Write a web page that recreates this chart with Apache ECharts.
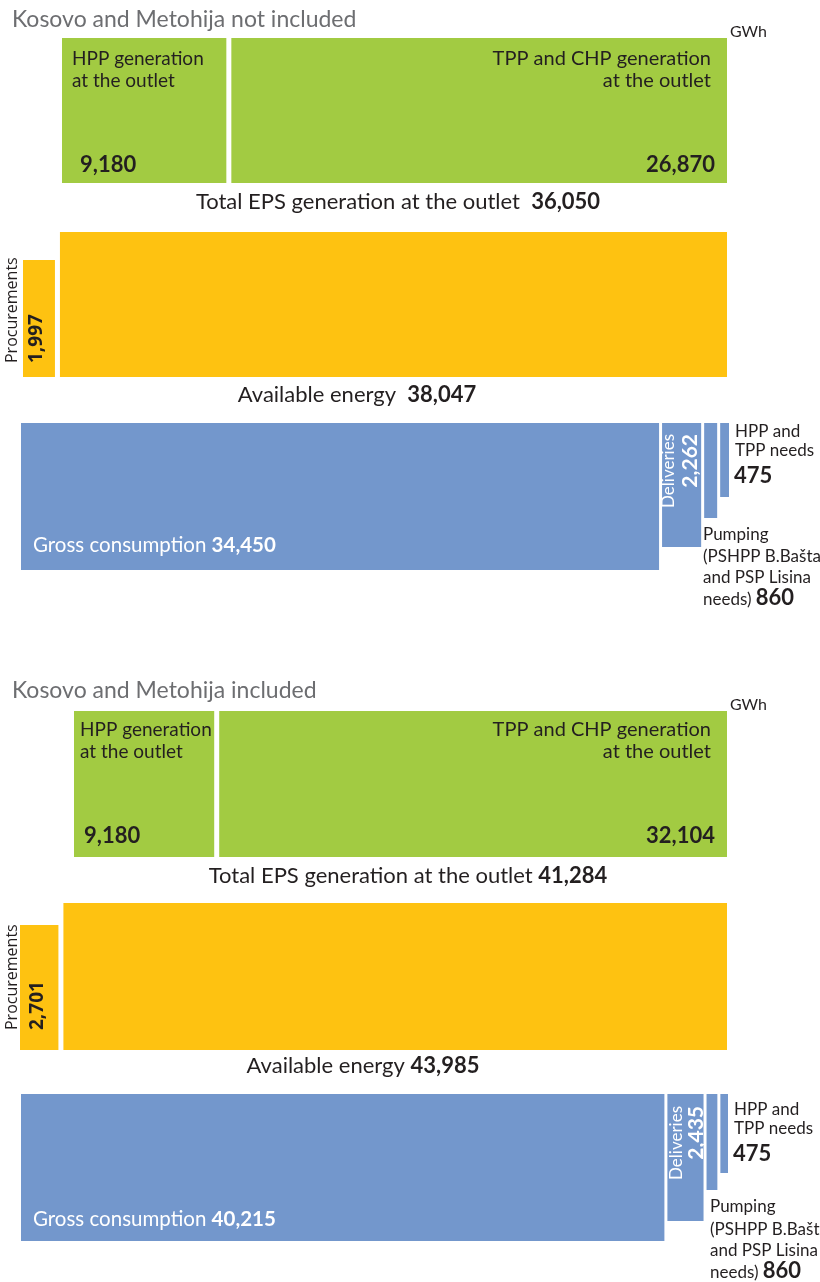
<!DOCTYPE html>
<html>
<head>
<meta charset="utf-8">
<script src="https://cdn.jsdelivr.net/npm/echarts@6/dist/echarts.min.js"></script>
<style>
  html, body { margin: 0; padding: 0; background: #ffffff; }
  #chart { width: 820px; height: 1282px; }
</style>
</head>
<body>
<div id="chart"></div>
<script>
// Electricity balance, GWh — two variants (without / with Kosovo and Metohija)
const panelTitles = ['Kosovo and Metohija not included', 'Kosovo and Metohija included'];
const hppGeneration = [9180, 9180];
const tppChpGeneration = [26870, 32104];
const totalGeneration = [36050, 41284];
const procurements = [1997, 2701];
const availableEnergy = [38047, 43985];
const grossConsumption = [34450, 40215];
const deliveries = [2262, 2435];
const pumping = [860, 860];
const plantNeeds = [475, 475];

const GREEN = '#a2cb42';
const YELLOW = '#fec211';
const BLUE = '#7397cc';
const INK = '#231f20';
const GREY = '#6d6e71';
const FAMILY = 'Lato, "Open Sans", sans-serif';
const WIDE = '"Open Sans", "DejaVu Sans", sans-serif';

const fmt = v => v.toLocaleString('en-US');

// Page layout of each panel (pixels): row frames are [left, right, top, bottom]
const layouts = [
  {
    title: { x: 12, base: 27 }, gwh: { x: 730, base: 37 },
    green: { frame: [62, 727, 38, 183], gap: 5 },
    yellow: { frame: [23, 727, 232, 377], gap: 5, heights: [117, 145] },
    blue: { frame: [21, 729, 423, 570], gap: 3, heights: [147, 124, 95, 74] },
    hppText: { x: 72, base: [65, 87] }, hppNum: { x: 80, base: 172 },
    tppText: { x: 711, base: [65, 87] }, tppNum: { x: 715, base: 172 },
    total: { cx: 398, base: 209, sep: '  ' },
    avail: { cx: 357, base: 402, sep: '  ' },
    proc: { textX: 12, numX: 37, y: 363 },
    gross: { x: 33, base: 552 },
    deliv: { textX: 669, numX: 690, y: 434 },
    needs: { x: 735, base: [437, 456], numBase: 483 },
    pump: { x: 703, base: [540, 562, 583, 605] }
  },
  {
    title: { x: 12, base: 698 }, gwh: { x: 730, base: 710 },
    green: { frame: [74, 727, 711, 857], gap: 5 },
    yellow: { frame: [20, 727, 903, 1050], gap: 5, heights: [125, 147] },
    blue: { frame: [21, 728, 1094, 1241], gap: 3, heights: [147, 127, 96, 79] },
    hppText: { x: 80, base: [736, 758] }, hppNum: { x: 84, base: 843 },
    tppText: { x: 711, base: [736, 758] }, tppNum: { x: 715, base: 843 },
    total: { cx: 408, base: 883, sep: ' ' },
    avail: { cx: 363, base: 1073, sep: ' ' },
    proc: { textX: 12, numX: 38, y: 1030 },
    gross: { x: 33, base: 1226 },
    deliv: { textX: 677, numX: 696, y: 1106 },
    needs: { x: 734, base: [1115, 1134], numBase: 1161 },
    pump: { x: 710, base: [1212, 1235, 1256, 1278] }
  }
];

const grids = [], xAxes = [], yAxes = [], series = [], graphics = [];

// One row of adjoining boxes whose widths follow the values on a hidden value axis
function addRow(row, values, color, inverse) {
  const gi = grids.length;
  const [L, R, T, B] = row.frame;
  const heights = row.heights || values.map(() => B - T);
  grids.push({ left: L, top: T, width: R - L, height: B - T });
  const total = values.reduce((a, b) => a + b, 0);
  xAxes.push({ gridIndex: gi, type: 'value', min: 0, max: total, show: false });
  yAxes.push({ gridIndex: gi, type: 'value', min: 0, max: B - T, inverse: inverse, show: false });
  let acc = 0;
  const data = values.map(v => { const d = [acc, acc + v]; acc += v; return d; });
  series.push({
    type: 'custom', xAxisIndex: gi, yAxisIndex: gi, silent: true, z: 1, data: data,
    renderItem(params, api) {
      const i = params.dataIndex;
      const p0 = api.coord([api.value(0), 0]);
      const p1 = api.coord([api.value(1), heights[i]]);
      const g = i === values.length - 1 ? 0 : row.gap;
      return {
        type: 'rect',
        shape: { x: p0[0], y: Math.min(p0[1], p1[1]), width: p1[0] - p0[0] - g, height: Math.abs(p1[1] - p0[1]) },
        style: { fill: color }
      };
    }
  });
}

const ctx = document.createElement('canvas').getContext('2d');
const font = (size, bold, fam) => (bold ? 'bold ' : '') + size + 'px ' + (fam || FAMILY);
function width(s, f) { ctx.font = f; return ctx.measureText(s).width; }

// Horizontal text line made of parts [text, size, bold], placed on a baseline
function line(x, base, parts, align, color) {
  const fonts = parts.map(p => font(p[1], p[2]));
  const ws = parts.map((p, i) => width(p[0], fonts[i]));
  const tw = ws.reduce((a, b) => a + b, 0);
  let cx = align === 'center' ? x - tw / 2 : align === 'right' ? x - tw : x;
  parts.forEach((p, i) => {
    graphics.push({
      type: 'text', x: cx, y: base - 0.34 * p[1], silent: true, z: 100,
      style: { text: p[0], font: fonts[i], fill: color || INK, align: 'left', verticalAlign: 'middle' }
    });
    cx += ws[i];
  });
}

// Text reading upwards; 'left' starts at (x, y) and runs up, 'right' ends there
function upright(x, y, text, size, bold, align, color, fam) {
  graphics.push({
    type: 'text', x: x, y: y, rotation: Math.PI / 2, silent: true, z: 100,
    style: { text: text, font: font(size, bold, fam), fill: color, align: align, verticalAlign: 'middle' }
  });
}

layouts.forEach((L, k) => {
  addRow(L.green, [hppGeneration[k], tppChpGeneration[k]], GREEN, false);
  addRow(L.yellow, [procurements[k], totalGeneration[k]], YELLOW, false);
  addRow(L.blue, [grossConsumption[k], deliveries[k], pumping[k], plantNeeds[k]], BLUE, true);

  line(L.title.x, L.title.base, [[panelTitles[k], 23, false]], 'left', GREY);
  line(L.gwh.x, L.gwh.base, [['GWh', 16, false]], 'left');

  line(L.hppText.x, L.hppText.base[0], [['HPP generation', 19, false]], 'left');
  line(L.hppText.x, L.hppText.base[1], [['at the outlet', 19, false]], 'left');
  line(L.hppNum.x, L.hppNum.base, [[fmt(hppGeneration[k]), 22, true]], 'left');

  line(L.tppText.x, L.tppText.base[0], [['TPP and CHP generation', 20, false]], 'right');
  line(L.tppText.x, L.tppText.base[1], [['at the outlet', 20, false]], 'right');
  line(L.tppNum.x, L.tppNum.base, [[fmt(tppChpGeneration[k]), 22, true]], 'right');

  line(L.total.cx, L.total.base, [['Total EPS generation at the outlet' + L.total.sep, 22, false], [fmt(totalGeneration[k]), 22, true]], 'center');
  line(L.avail.cx, L.avail.base, [['Available energy' + L.avail.sep, 22, false], [fmt(availableEnergy[k]), 22, true]], 'center');

  upright(L.proc.textX, L.proc.y, 'Procurements', 16, false, 'left', INK, WIDE);
  upright(L.proc.numX, L.proc.y, fmt(procurements[k]), 19, true, 'left', INK, WIDE);

  line(L.gross.x, L.gross.base, [['Gross consumption ', 20.5, false], [fmt(grossConsumption[k]), 20.5, true]], 'left', '#ffffff');

  upright(L.deliv.textX, L.deliv.y, 'Deliveries', 17, false, 'right', '#ffffff');
  upright(L.deliv.numX, L.deliv.y, fmt(deliveries[k]), 21, true, 'right', '#ffffff');

  line(L.needs.x, L.needs.base[0], [['HPP and', 17, false]], 'left');
  line(L.needs.x, L.needs.base[1], [['TPP needs', 17, false]], 'left');
  line(L.needs.x - 1, L.needs.numBase, [[fmt(plantNeeds[k]), 22, true]], 'left');

  line(L.pump.x, L.pump.base[0], [['Pumping', 17, false]], 'left');
  line(L.pump.x, L.pump.base[1], [['(PSHPP B.Bašta', 17, false]], 'left');
  line(L.pump.x, L.pump.base[2], [['and PSP Lisina', 17, false]], 'left');
  line(L.pump.x, L.pump.base[3], [['needs) ', 17, false], [fmt(pumping[k]), 22, true]], 'left');
});

const chart = echarts.init(document.getElementById('chart'), null, { renderer: 'canvas' });
chart.setOption({
  animation: false,
  backgroundColor: '#ffffff',
  grid: grids,
  xAxis: xAxes,
  yAxis: yAxes,
  series: series,
  graphic: { elements: graphics }
});
</script>
</body>
</html>
